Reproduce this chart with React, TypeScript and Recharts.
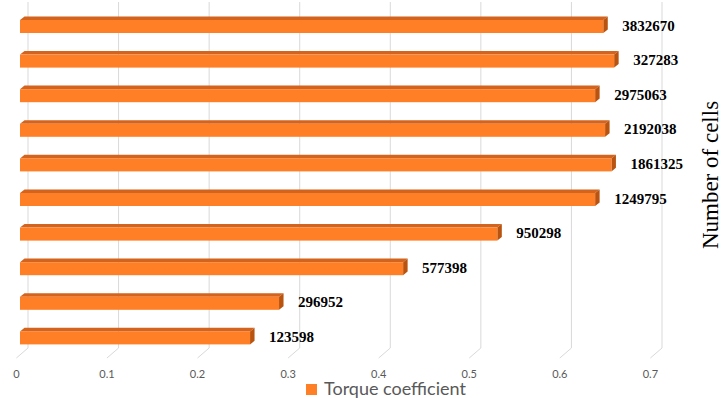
import React from 'react';
import { BarChart, Bar, XAxis, YAxis, CartesianGrid, LabelList, Legend } from 'recharts';

// Mesh sizes (number of cells), listed top to bottom
const cellCounts = ['3832670', '327283', '2975063', '2192038', '1861325', '1249795', '950298', '577398', '296952', '123598'];
// Torque coefficient obtained for each mesh
const torqueCoefficients = [0.644, 0.656, 0.635, 0.646, 0.653, 0.635, 0.527, 0.423, 0.286, 0.254];
// Value axis ticks
const xTicks = [0, 0.1, 0.2, 0.3, 0.4, 0.5, 0.6, 0.7];

const data = cellCounts.map((cells, i) => ({ cells, torque: torqueCoefficients[i] }));

// Oblique depth used for the pseudo-3D bars and the floor lines
const DEPTH_X = 4.5;
const DEPTH_Y = 3.6;
const FRONT = '#FF7F27';
const TOP = '#D4631D';
const SIDE = '#B85410';
const GRID = '#D9D9D9';
const AXIS_TEXT = '#595959';

const Bar3D = (props: any) => {
  const { x, y, width, height } = props;
  if (width == null || width <= 0) return null;
  const top = `M${x},${y} L${x + DEPTH_X},${y - DEPTH_Y} L${x + width + DEPTH_X},${y - DEPTH_Y} L${x + width},${y} Z`;
  const side = `M${x + width},${y} L${x + width + DEPTH_X},${y - DEPTH_Y} L${x + width + DEPTH_X},${y + height - DEPTH_Y} L${x + width},${y + height} Z`;
  return (
    <g>
      <path d={top} fill={TOP} />
      <path d={side} fill={SIDE} />
      <rect x={x} y={y} width={width} height={height} fill={FRONT} />
    </g>
  );
};

// Back-wall grid line plus its slanted segment across the floor
const GridLine = (props: any) => {
  const { x1, y1, y2 } = props;
  const backX = x1 + 8;
  const frontX = x1 - 3.6;
  const d = `M${backX},${y1 - 7} L${backX},${y2 - 7} L${frontX},${y2 + 3}`;
  return <path key={props.key} d={d} fill="none" stroke={GRID} strokeWidth={1} />;
};

const ValueTick = (props: any) => {
  const { x, payload } = props;
  return (
    <text
      x={x - 3.6}
      y={373}
      textAnchor="middle"
      dominantBaseline="central"
      fontFamily="Lato, 'Open Sans', sans-serif"
      fontSize={11}
      fill={AXIS_TEXT}
    >
      {String(payload.value)}
    </text>
  );
};

const CellLabel = (props: any) => {
  const { x, y, width, height, value } = props;
  return (
    <text
      x={x + width + 19}
      y={y + height / 2 - 1}
      textAnchor="start"
      dominantBaseline="central"
      fontFamily="'Liberation Serif', 'Times New Roman', serif"
      fontWeight="bold"
      fontSize={15}
      fill="#000000"
    >
      {value}
    </text>
  );
};

const AxisTitle = (props: any) => {
  const vb = props.viewBox || { x: 654, y: 9, width: 67, height: 346 };
  const cx = vb.x + 56;
  const cy = vb.y + vb.height / 2 - 7;
  return (
    <text
      x={cx}
      y={cy}
      transform={`rotate(-90 ${cx} ${cy})`}
      textAnchor="middle"
      dominantBaseline="central"
      fontFamily="'Liberation Serif', 'Times New Roman', serif"
      fontSize={23}
      fill="#000000"
    >
      Number of cells
    </text>
  );
};

const LegendContent = () => (
  <div style={{ display: 'flex', alignItems: 'center', whiteSpace: 'nowrap' }}>
    <span style={{ display: 'inline-block', width: 11, height: 11, background: FRONT, marginRight: 7, marginTop: 3 }} />
    <span style={{ fontFamily: 'Lato, sans-serif', fontSize: 18, lineHeight: '13px', color: AXIS_TEXT }}>
      Torque coefficient
    </span>
  </div>
);

export default function App() {
  return (
    <div style={{ position: 'absolute', left: 0, top: 0, width: 721, height: 398, background: '#ffffff' }}>
      <BarChart
        width={721}
        height={398}
        data={data}
        layout="vertical"
        margin={{ top: 9, right: 0, bottom: 23, left: 20 }}
        barSize={13}
      >
        <CartesianGrid horizontal={false} vertical={GridLine} />
        <XAxis
          type="number"
          dataKey="torque"
          domain={[0, 0.7]}
          ticks={xTicks}
          interval={0}
          axisLine={false}
          tickLine={false}
          height={20}
          tick={ValueTick}
        />
        <YAxis
          type="category"
          dataKey="cells"
          orientation="right"
          width={67}
          axisLine={false}
          tickLine={false}
          tick={false}
          label={AxisTitle}
        />
        <Legend
          layout="horizontal"
          verticalAlign="middle"
          align="center"
          content={LegendContent}
          wrapperStyle={{ position: 'absolute', left: 306, top: 381, width: 'auto' }}
        />
        <Bar dataKey="torque" name="Torque coefficient" shape={Bar3D} isAnimationActive={false}>
          <LabelList dataKey="cells" content={CellLabel} />
        </Bar>
      </BarChart>
    </div>
  );
}
